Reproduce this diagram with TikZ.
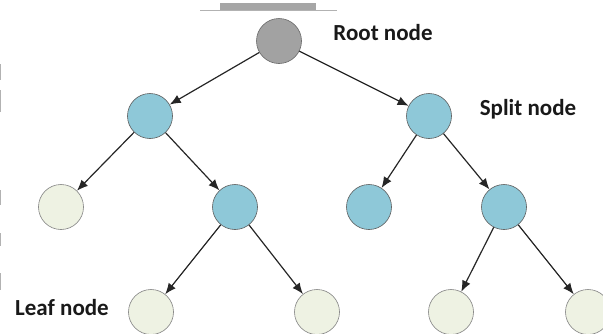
\documentclass[tikz,border=0pt]{standalone}
\usepackage{fontspec}
\setmainfont{Carlito}
\usepackage{tikz}
\usetikzlibrary{calc,arrows.meta}

\definecolor{splitblue}{RGB}{142,200,216}
\definecolor{leafgreen}{RGB}{238,242,227}
\definecolor{rootgray}{RGB}{162,162,162}

\begin{document}
\begin{tikzpicture}[x=1pt,y=-1pt,
  rootnode/.style={circle,minimum size=45pt,inner sep=0pt,fill=rootgray,draw=gray!80!black,line width=0.6pt},
  splitnode/.style={circle,minimum size=45pt,inner sep=0pt,fill=splitblue,draw=gray!70!black,line width=0.6pt},
  leafnode/.style={circle,minimum size=45pt,inner sep=0pt,fill=leafgreen,draw=gray,line width=0.6pt},
  label/.style={font=\bfseries\fontsize{23}{24}\selectfont,text=black!90},
  edge/.style={-{Latex[length=11pt,width=9pt]},line width=1.2pt,draw=black!85}]

 \useasboundingbox (0,0) rectangle (603,333);

 % smudges at the top and the left margin
 \fill[gray!70] (220,3) rectangle (316,10);
 \draw[gray!60,line width=0.8pt] (200,10) -- (337,10);
 \draw[gray!60,line width=1.2pt] (0.6,64) -- (0.6,80) (0.6,90) -- (0.6,112);
 \draw[gray!60,line width=1.2pt] (0.6,190) -- (0.6,205) (0.6,233) -- (0.6,246) (0.6,273) -- (0.6,290);

 \node[rootnode] (root) at (279,41) {};

 \node[splitnode] (sl) at (150,116) {};
 \node[splitnode] (sr) at (429,116) {};

 \node[leafnode] (l1) at (61,207) {};
 \node[splitnode] (s1) at (235,207) {};
 \node[splitnode] (s2) at (369,207) {};
 \node[splitnode] (s3) at (504,207) {};

 \node[leafnode] (l2) at (151,312) {};
 \node[leafnode] (l3) at (317,312) {};
 \node[leafnode] (l4) at (451,312) {};
 \node[leafnode] (l5) at (588,312) {};

 \draw[edge] (root) -- (sl);
 \draw[edge] (root) -- (sr);
 \draw[edge] (sl) -- (l1);
 \draw[edge] (sl) -- (s1);
 \draw[edge] (sr) -- (s2);
 \draw[edge] (sr) -- (s3);
 \draw[edge] (s1) -- (l2);
 \draw[edge] (s1) -- (l3);
 \draw[edge] (s3) -- (l4);
 \draw[edge] (s3) -- (l5);

 \node[label] (rootlabel) at (383,33) {Root node};
 \node[label] (splitlabel) at (528,109) {Split node};
 \node[label] (leaflabel) at (62,308) {Leaf node};
\end{tikzpicture}
\end{document}
